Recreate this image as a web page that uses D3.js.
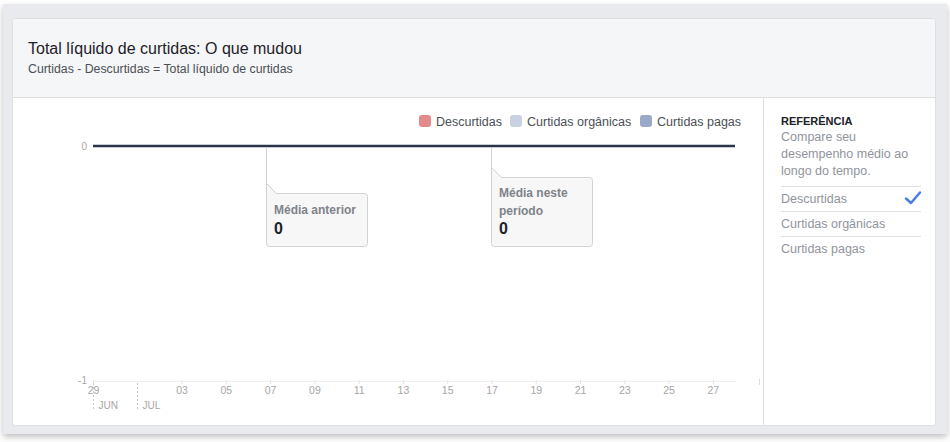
<!DOCTYPE html>
<html>
<head>
<meta charset="utf-8">
<script src="https://cdn.jsdelivr.net/npm/d3@7"></script>
<style>
  html, body { margin: 0; padding: 0; background: #ffffff; }
  svg { display: block; font-family: "Liberation Sans", Arial, Helvetica, sans-serif; }
</style>
</head>
<body>
<svg id="chart" width="950" height="442"></svg>
<script>
// ---------- DATA ----------
const dates = ["2017-06-29","2017-06-30","2017-07-01","2017-07-02","2017-07-03","2017-07-04",
  "2017-07-05","2017-07-06","2017-07-07","2017-07-08","2017-07-09","2017-07-10","2017-07-11",
  "2017-07-12","2017-07-13","2017-07-14","2017-07-15","2017-07-16","2017-07-17","2017-07-18",
  "2017-07-19","2017-07-20","2017-07-21","2017-07-22","2017-07-23","2017-07-24","2017-07-25",
  "2017-07-26","2017-07-27","2017-07-28"];
const netLikes = [0,0,0,0,0,0,0,0,0,0,0,0,0,0,0,0,0,0,0,0,0,0,0,0,0,0,0,0,0,0];
const xTickDates = ["2017-06-29","2017-07-03","2017-07-05","2017-07-07","2017-07-09","2017-07-11",
  "2017-07-13","2017-07-15","2017-07-17","2017-07-19","2017-07-21","2017-07-23","2017-07-25","2017-07-27"];
const monthStarts = ["2017-06-29","2017-07-01"];
const monthLabels = ["JUN","JUL"];
const yTicks = [0, -1];
const legendNames = ["Descurtidas","Curtidas orgânicas","Curtidas pagas"];
const legendColors = ["#e48a8a","#c8d1e1","#9ba9c8"];
const calloutDates = ["2017-07-06T19:50","2017-07-16T23:50"];
const calloutLabels = [["Média anterior"],["Média neste","período"]];
const calloutValues = [0, 0];
const title = "Total líquido de curtidas: O que mudou";
const subtitle = "Curtidas - Descurtidas = Total líquido de curtidas";
const refTitle = "REFERÊNCIA";
const refText = ["Compare seu","desempenho médio ao","longo do tempo."];
const refItems = ["Descurtidas","Curtidas orgânicas","Curtidas pagas"];
const refChecked = [true, false, false];

// ---------- DRAW ----------
const parse = d3.timeParse("%Y-%m-%d");
const parseT = d3.timeParse("%Y-%m-%dT%H:%M");
const svg = d3.select("#chart");

// frame / shadow
const defs = svg.append("defs");
const f = defs.append("filter").attr("id","sh").attr("x","-5%").attr("y","-5%").attr("width","110%").attr("height","115%");
f.append("feDropShadow").attr("dx",0).attr("dy",3).attr("stdDeviation",3).attr("flood-color","#000").attr("flood-opacity",0.25);

svg.append("rect").attr("x",3).attr("y",4).attr("width",944).attr("height",430)
  .attr("fill","#e9eaed").attr("filter","url(#sh)");
// card
svg.append("rect").attr("x",12.5).attr("y",18.5).attr("width",923).attr("height",407)
  .attr("rx",3).attr("fill","#ffffff").attr("stroke","#dddfe2");
// header
svg.append("path").attr("d","M13,97 L13,22 Q13,19 16,19 L932,19 Q935,19 935,22 L935,97 Z").attr("fill","#f5f6f7");
svg.append("line").attr("x1",13).attr("x2",935).attr("y1",97.5).attr("y2",97.5).attr("stroke","#dddfe2");
// sidebar divider
svg.append("line").attr("x1",763.5).attr("x2",763.5).attr("y1",98).attr("y2",425).attr("stroke","#dddfe2");

svg.append("text").attr("x",28).attr("y",54).attr("font-size",16).attr("fill","#1d2129").text(title);
svg.append("text").attr("x",28).attr("y",73).attr("font-size",12.3).attr("fill","#4b4f56").text(subtitle);

// scales
const x = d3.scaleTime().domain([parse(dates[0]), parse(dates[dates.length-1])]).range([93, 735]);
const y = d3.scaleLinear().domain([-1, 0]).range([380, 146]);

// x axis baseline grid
svg.append("line").attr("x1",93).attr("x2",736).attr("y1",381.5).attr("y2",381.5).attr("stroke","#f0f0f0");
svg.append("line").attr("x1",759.5).attr("x2",759.5).attr("y1",379).attr("y2",385).attr("stroke","#ddd");

const xAxis = d3.axisBottom(x).tickValues(xTickDates.map(parse)).tickFormat(d3.timeFormat("%d")).tickSize(4).tickPadding(3);
const gx = svg.append("g").attr("transform","translate(0,380)").call(xAxis);
gx.select(".domain").remove();
gx.selectAll(".tick line").attr("stroke","#e6e6e6");
gx.selectAll(".tick text").attr("fill","#a6a6a6").attr("font-size",10.5).attr("font-family","Liberation Sans, Arial, sans-serif");

// month markers
monthStarts.forEach((d,i) => {
  const px = Math.round(x(parse(d))) + 0.5;
  svg.append("line").attr("x1",px).attr("x2",px).attr("y1",383).attr("y2",410)
    .attr("stroke","#c8c8c8").attr("stroke-dasharray","2,2");
  svg.append("text").attr("x",px+5).attr("y",409).attr("font-size",10).attr("fill","#a6a6a6").text(monthLabels[i]);
});

// y axis labels
const yAxis = d3.axisLeft(y).tickValues(yTicks).tickFormat(d => String(d)).tickSize(0).tickPadding(6);
const gy = svg.append("g").attr("transform","translate(93,0)").call(yAxis);
gy.select(".domain").remove();
gy.selectAll(".tick text").attr("fill","#a6a6a6").attr("font-size",10).attr("font-family","Liberation Sans, Arial, sans-serif");

// line
const line = d3.line().x((d,i) => x(parse(dates[i]))).y(d => y(d));
svg.append("path").datum(netLikes).attr("d",line).attr("fill","none")
  .attr("stroke","#2b3448").attr("stroke-width",2.5);

// callouts
const calloutTops = [193, 177];
calloutDates.forEach((d,i) => {
  const cx = Math.round(x(parseT(d))) + 0.5;
  const top = calloutTops[i] + 0.5, bottom = 246.5, right = cx + 101, fold = 10, r = 3;
  svg.append("path")
    .attr("d",`M${cx},${y(calloutValues[i])+1} L${cx},${top-fold} L${cx+fold},${top} L${right-r},${top} Q${right},${top} ${right},${top+r} L${right},${bottom-r} Q${right},${bottom} ${right-r},${bottom} L${cx+r},${bottom} Q${cx},${bottom} ${cx},${bottom-r} Z`)
    .attr("fill","#f7f7f7").attr("stroke","#cfd2d6");
  calloutLabels[i].forEach((t,j) => {
    svg.append("text").attr("x",cx+7.5).attr("y",top + (calloutLabels[i].length===2 ? 19 : 20) + j*18)
      .attr("font-size",12).attr("font-weight","bold").attr("fill","#7f838a").text(t);
  });
  svg.append("text").attr("x",cx+7.5).attr("y",bottom-12.5).attr("font-size",16).attr("font-weight","bold")
    .attr("fill","#1d2129").text(calloutValues[i]);
});

// legend
const legendX = [419, 510, 640];
legendNames.forEach((n,i) => {
  svg.append("rect").attr("x",legendX[i]).attr("y",115).attr("width",12).attr("height",12).attr("rx",3)
    .attr("fill",legendColors[i]);
  svg.append("text").attr("x",legendX[i]+17).attr("y",126).attr("font-size",12.5).attr("fill","#4b4f56").text(n);
});

// sidebar
svg.append("text").attr("x",781).attr("y",125).attr("font-size",11).attr("font-weight","bold").attr("fill","#1d2129").text(refTitle);
refText.forEach((t,i) => {
  svg.append("text").attr("x",781).attr("y",140.5 + i*17).attr("font-size",12.5).attr("fill","#90949c").text(t);
});
refItems.forEach((t,i) => {
  const yy = 186.5 + i*25;
  svg.append("line").attr("x1",781).attr("x2",921).attr("y1",yy).attr("y2",yy).attr("stroke","#dddfe2");
  svg.append("text").attr("x",781).attr("y",yy+16.5).attr("font-size",12.5).attr("fill","#90949c").text(t);
  if (refChecked[i]) {
    svg.append("path").attr("d",`M906,${yy+12} L911,${yy+16.5} L920,${yy+6}`).attr("fill","none")
      .attr("stroke","#4a7fe0").attr("stroke-width",2.5).attr("stroke-linecap","round").attr("stroke-linejoin","round");
  }
});
</script>
</body>
</html>
